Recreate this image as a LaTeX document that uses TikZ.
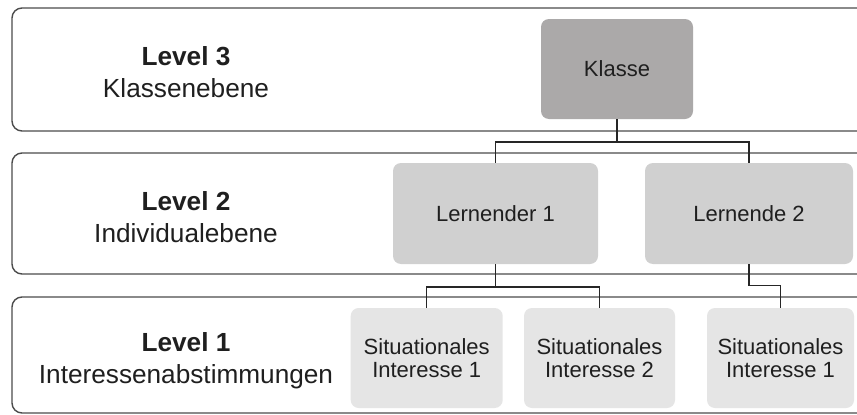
\documentclass[tikz,border=0pt]{standalone}
\usepackage{fontspec}
\setmainfont{Liberation Sans}
\begin{document}
\begin{tikzpicture}[x=1pt,y=-1pt,
  band/.style={draw=black!70, line width=1.4pt, rounded corners=10pt, fill=white},
  box/.style={rounded corners=8pt, inner sep=0pt, align=center, text=black!88,
    font=\fontsize{22}{23}\selectfont},
  lvl/.style={align=center, text=black!88, font=\fontsize{26.2}{32}\selectfont},
  conn/.style={draw=black!85, line width=1.2pt}]
\useasboundingbox (0,0) rectangle (857,415);
\clip (0,0) rectangle (857,415);
\fill[white] (0,0) rectangle (857,415);
% bands
\draw[band] (12,8) rectangle (900,131);
\draw[band] (12,153) rectangle (900,274);
\draw[band] (12,297) rectangle (900,413);
% level labels
\node[lvl] (lv3) at (186,72) {\textbf{Level 3}\\Klassenebene};
\node[lvl] (lv2) at (186,217) {\textbf{Level 2}\\Individualebene};
\node[lvl] (lv1) at (186,361) {\textbf{Level 1}\\Interessenabstimmungen};
% boxes
\node[box, fill={rgb,255:red,171;green,169;blue,169}, minimum width=152pt, minimum height=100pt] (klasse) at (617,69) {Klasse};
\node[box, fill={rgb,255:red,208;green,208;blue,208}, minimum width=205pt, minimum height=101pt] (l1) at (495.5,213.5) {Lernender 1};
\node[box, fill={rgb,255:red,208;green,208;blue,208}, minimum width=208pt, minimum height=101pt] (l2) at (749,213.5) {Lernende 2};
\node[box, fill={rgb,255:red,229;green,229;blue,229}, minimum width=152pt, minimum height=100pt] (s1) at (426.7,358) {Situationales\\Interesse 1};
\node[box, fill={rgb,255:red,229;green,229;blue,229}, minimum width=151pt, minimum height=100pt] (s2) at (599.5,358) {Situationales\\Interesse 2};
\node[box, fill={rgb,255:red,229;green,229;blue,229}, minimum width=147pt, minimum height=100pt] (s3) at (780.5,358) {Situationales\\Interesse 1};
% connectors
\draw[conn] (klasse.south) -- ++(0,22.7) coordinate (kj);
\draw[conn] (kj) -| (l1.north);
\draw[conn] (kj) -| (l2.north);
\draw[conn] (l1.south) -- ++(0,22.7) coordinate (lj);
\draw[conn] (lj) -| (s1.north);
\draw[conn] (lj) -| (s2.north);
\draw[conn] (l2.south) -- ++(0,21) -| (s3.north);
\end{tikzpicture}
\end{document}
